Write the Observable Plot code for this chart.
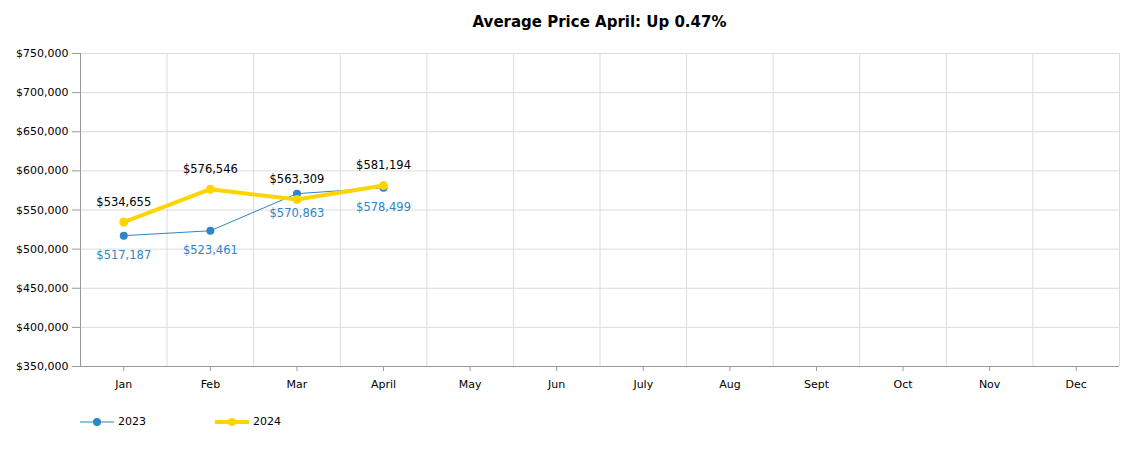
<!DOCTYPE html>
<html>
<head>
<meta charset="utf-8">
<script src="https://cdn.jsdelivr.net/npm/d3@7"></script>
<script src="https://cdn.jsdelivr.net/npm/@observablehq/plot@0.6"></script>
<style>
  body { margin: 0; background: #fff; font-family: "DejaVu Sans", Verdana, sans-serif; }
  #title { height: 40px; margin-left: 80px; width: 1039px; text-align: center; font-weight: bold; font-size: 15px; line-height: 44px; color: #000; }
  #legend { position: relative; height: 50px; font-size: 11px; }
  .item { position: absolute; top: 15px; display: flex; align-items: center; }
  .item span { margin-left: 4px; }
</style>
</head>
<body>
<div id="title">Average Price April: Up 0.47%</div>
<div id="chart"></div>
<div id="legend"></div>
<script>
const months = ["Jan","Feb","Mar","April","May","Jun","July","Aug","Sept","Oct","Nov","Dec"];
const series = ["2023", "2024"];
const values2023 = [517187, 523461, 570863, 578499];
const values2024 = [534655, 576546, 563309, 581194];
const yTicks = [350000, 400000, 450000, 500000, 550000, 600000, 650000, 700000, 750000];
const colors = {"2023": "#2e86c6", "2024": "#ffd400"};

const rows2023 = values2023.map((v, i) => ({i, v}));
const rows2024 = values2024.map((v, i) => ({i, v}));
const idx = months.map((m, i) => i);
const bounds = months.slice(0, 11).map((m, i) => i + 0.5).concat([11.5]);
const fmt = d3.format("$,");

const chart = Plot.plot({
  width: 1140,
  height: 360,
  marginTop: 13,
  marginBottom: 34,
  marginLeft: 80,
  marginRight: 21,
  style: {fontFamily: "'DejaVu Sans', Verdana, sans-serif", fontSize: "11px", color: "#000"},
  x: {type: "linear", domain: [-0.5, 11.5]},
  y: {domain: [350000, 750000]},
  marks: [
    Plot.gridY(yTicks, {stroke: "#dcdcdc", strokeOpacity: 1}),
    Plot.ruleX(bounds, {stroke: "#dcdcdc"}),
    Plot.ruleX([-0.5], {stroke: "#999"}),
    Plot.ruleY([350000], {stroke: "#999"}),
    Plot.axisY(yTicks, {tickFormat: fmt, tickSize: 8, tickPadding: 4, stroke: "#999", fill: "#000", fontSize: 11, label: null}),
    Plot.axisX(idx, {tickFormat: i => months[i], tickSize: 5, tickPadding: 9, stroke: "#999", fill: "#000", fontSize: 11, label: null}),
    Plot.line(rows2023, {x: "i", y: "v", stroke: colors["2023"], strokeWidth: 1}),
    Plot.dot(rows2023, {x: "i", y: "v", fill: colors["2023"], r: 4}),
    Plot.text(rows2023, {x: "i", y: "v", text: d => fmt(d.v), dy: 20, fill: colors["2023"], fontSize: 11.5}),
    Plot.line(rows2024, {x: "i", y: "v", stroke: colors["2024"], strokeWidth: 4}),
    Plot.dot(rows2024, {x: "i", y: "v", fill: colors["2024"], r: 4.5}),
    Plot.text(rows2024, {x: "i", y: "v", text: d => fmt(d.v), dy: -20, fill: "#000", fontSize: 11.5})
  ]
});
document.getElementById("chart").appendChild(chart);

const legend = document.getElementById("legend");
const lx = [80, 215];
series.forEach((s, k) => {
  const div = document.createElement("div");
  div.className = "item";
  div.style.left = lx[k] + "px";
  const w = s === "2023" ? 1 : 4;
  div.innerHTML = `<svg width="34" height="12"><line x1="0" x2="34" y1="6" y2="6" stroke="${colors[s]}" stroke-width="${w}"/><circle cx="17" cy="6" r="4" fill="${colors[s]}"/></svg><span>${s}</span>`;
  legend.appendChild(div);
});
</script>
</body>
</html>
